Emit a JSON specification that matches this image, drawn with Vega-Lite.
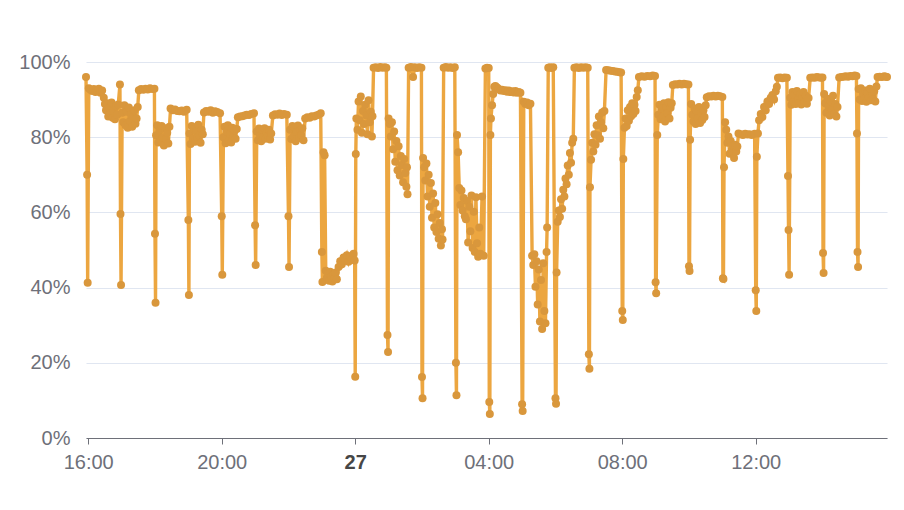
{
"$schema": "https://vega.github.io/schema/vega-lite/v6.json",
"width": 801, "height": 376,
"autosize": {"type": "none"},
"padding": {"left": 86, "top": 62, "right": 17, "bottom": 72},
"background": "white",
"config": {"view": {"stroke": null}, "font": "Liberation Sans"},
"data": {"values": [
{"t":"2024-05-26T15:56","v":0.960},{"t":"2024-05-26T15:58","v":0.700},{"t":"2024-05-26T15:59","v":0.413},
{"t":"2024-05-26T16:01","v":0.930},{"t":"2024-05-26T16:04","v":0.926},{"t":"2024-05-26T16:07","v":0.923},{"t":"2024-05-26T16:10","v":0.928},{"t":"2024-05-26T16:13","v":0.920},{"t":"2024-05-26T16:16","v":0.925},{"t":"2024-05-26T16:19","v":0.929},{"t":"2024-05-26T16:22","v":0.918},{"t":"2024-05-26T16:25","v":0.924},{"t":"2024-05-26T16:28","v":0.905},{"t":"2024-05-26T16:30","v":0.888},{"t":"2024-05-26T16:32","v":0.872},{"t":"2024-05-26T16:34","v":0.890},{"t":"2024-05-26T16:36","v":0.855},{"t":"2024-05-26T16:38","v":0.878},{"t":"2024-05-26T16:40","v":0.863},{"t":"2024-05-26T16:42","v":0.892},{"t":"2024-05-26T16:44","v":0.852},{"t":"2024-05-26T16:46","v":0.870},{"t":"2024-05-26T16:48","v":0.848},{"t":"2024-05-26T16:50","v":0.882},{"t":"2024-05-26T16:52","v":0.860},{"t":"2024-05-26T16:54","v":0.887},{"t":"2024-05-26T16:57","v":0.940},{"t":"2024-05-26T16:58","v":0.596},{"t":"2024-05-26T16:59","v":0.407},
{"t":"2024-05-26T17:01","v":0.865},{"t":"2024-05-26T17:03","v":0.840},{"t":"2024-05-26T17:05","v":0.885},{"t":"2024-05-26T17:07","v":0.832},{"t":"2024-05-26T17:09","v":0.868},{"t":"2024-05-26T17:11","v":0.825},{"t":"2024-05-26T17:13","v":0.879},{"t":"2024-05-26T17:15","v":0.844},{"t":"2024-05-26T17:17","v":0.860},{"t":"2024-05-26T17:19","v":0.828},{"t":"2024-05-26T17:21","v":0.855},{"t":"2024-05-26T17:23","v":0.872},{"t":"2024-05-26T17:25","v":0.836},{"t":"2024-05-26T17:27","v":0.850},{"t":"2024-05-26T17:29","v":0.880},
{"t":"2024-05-26T17:31","v":0.925},{"t":"2024-05-26T17:35","v":0.928},{"t":"2024-05-26T17:39","v":0.926},{"t":"2024-05-26T17:43","v":0.929},{"t":"2024-05-26T17:47","v":0.927},{"t":"2024-05-26T17:51","v":0.930},{"t":"2024-05-26T17:55","v":0.928},{"t":"2024-05-26T17:59","v":0.929},
{"t":"2024-05-26T18:00","v":0.543},{"t":"2024-05-26T18:01","v":0.360},
{"t":"2024-05-26T18:02","v":0.805},{"t":"2024-05-26T18:04","v":0.832},{"t":"2024-05-26T18:06","v":0.786},{"t":"2024-05-26T18:08","v":0.818},{"t":"2024-05-26T18:10","v":0.792},{"t":"2024-05-26T18:12","v":0.830},{"t":"2024-05-26T18:14","v":0.800},{"t":"2024-05-26T18:16","v":0.778},{"t":"2024-05-26T18:18","v":0.824},{"t":"2024-05-26T18:20","v":0.795},{"t":"2024-05-26T18:22","v":0.812},{"t":"2024-05-26T18:24","v":0.783},{"t":"2024-05-26T18:26","v":0.828},
{"t":"2024-05-26T18:28","v":0.876},{"t":"2024-05-26T18:32","v":0.872},{"t":"2024-05-26T18:36","v":0.874},{"t":"2024-05-26T18:40","v":0.870},{"t":"2024-05-26T18:44","v":0.869},{"t":"2024-05-26T18:48","v":0.871},{"t":"2024-05-26T18:52","v":0.868},{"t":"2024-05-26T18:57","v":0.873},
{"t":"2024-05-26T19:00","v":0.580},{"t":"2024-05-26T19:01","v":0.380},
{"t":"2024-05-26T19:02","v":0.810},{"t":"2024-05-26T19:04","v":0.782},{"t":"2024-05-26T19:06","v":0.830},{"t":"2024-05-26T19:08","v":0.796},{"t":"2024-05-26T19:10","v":0.822},{"t":"2024-05-26T19:12","v":0.788},{"t":"2024-05-26T19:14","v":0.815},{"t":"2024-05-26T19:16","v":0.799},{"t":"2024-05-26T19:18","v":0.833},{"t":"2024-05-26T19:20","v":0.804},{"t":"2024-05-26T19:22","v":0.785},{"t":"2024-05-26T19:24","v":0.820},{"t":"2024-05-26T19:26","v":0.808},
{"t":"2024-05-26T19:28","v":0.866},{"t":"2024-05-26T19:32","v":0.870},{"t":"2024-05-26T19:36","v":0.868},{"t":"2024-05-26T19:40","v":0.872},{"t":"2024-05-26T19:44","v":0.865},{"t":"2024-05-26T19:48","v":0.869},{"t":"2024-05-26T19:52","v":0.867},{"t":"2024-05-26T19:57","v":0.864},
{"t":"2024-05-26T20:00","v":0.590},{"t":"2024-05-26T20:01","v":0.434},
{"t":"2024-05-26T20:03","v":0.800},{"t":"2024-05-26T20:05","v":0.828},{"t":"2024-05-26T20:07","v":0.784},{"t":"2024-05-26T20:09","v":0.815},{"t":"2024-05-26T20:11","v":0.832},{"t":"2024-05-26T20:13","v":0.791},{"t":"2024-05-26T20:15","v":0.808},{"t":"2024-05-26T20:17","v":0.786},{"t":"2024-05-26T20:19","v":0.825},{"t":"2024-05-26T20:21","v":0.802},{"t":"2024-05-26T20:23","v":0.818},{"t":"2024-05-26T20:25","v":0.796},{"t":"2024-05-26T20:27","v":0.822},
{"t":"2024-05-26T20:29","v":0.853},{"t":"2024-05-26T20:33","v":0.855},{"t":"2024-05-26T20:37","v":0.856},{"t":"2024-05-26T20:41","v":0.858},{"t":"2024-05-26T20:45","v":0.860},{"t":"2024-05-26T20:49","v":0.859},{"t":"2024-05-26T20:53","v":0.862},{"t":"2024-05-26T20:58","v":0.864},
{"t":"2024-05-26T21:00","v":0.566},{"t":"2024-05-26T21:01","v":0.460},
{"t":"2024-05-26T21:03","v":0.815},{"t":"2024-05-26T21:05","v":0.792},{"t":"2024-05-26T21:07","v":0.823},{"t":"2024-05-26T21:09","v":0.804},{"t":"2024-05-26T21:11","v":0.789},{"t":"2024-05-26T21:13","v":0.819},{"t":"2024-05-26T21:15","v":0.800},{"t":"2024-05-26T21:17","v":0.824},{"t":"2024-05-26T21:19","v":0.796},{"t":"2024-05-26T21:21","v":0.812},{"t":"2024-05-26T21:23","v":0.805},{"t":"2024-05-26T21:25","v":0.820},{"t":"2024-05-26T21:27","v":0.794},{"t":"2024-05-26T21:29","v":0.810},
{"t":"2024-05-26T21:32","v":0.858},{"t":"2024-05-26T21:36","v":0.861},{"t":"2024-05-26T21:40","v":0.860},{"t":"2024-05-26T21:44","v":0.863},{"t":"2024-05-26T21:48","v":0.859},{"t":"2024-05-26T21:52","v":0.862},{"t":"2024-05-26T21:57","v":0.860},
{"t":"2024-05-26T22:00","v":0.590},{"t":"2024-05-26T22:01","v":0.455},
{"t":"2024-05-26T22:03","v":0.820},{"t":"2024-05-26T22:05","v":0.795},{"t":"2024-05-26T22:07","v":0.830},{"t":"2024-05-26T22:09","v":0.802},{"t":"2024-05-26T22:11","v":0.826},{"t":"2024-05-26T22:13","v":0.789},{"t":"2024-05-26T22:15","v":0.814},{"t":"2024-05-26T22:17","v":0.831},{"t":"2024-05-26T22:19","v":0.798},{"t":"2024-05-26T22:21","v":0.819},{"t":"2024-05-26T22:23","v":0.805},{"t":"2024-05-26T22:25","v":0.824},{"t":"2024-05-26T22:27","v":0.792},
{"t":"2024-05-26T22:30","v":0.850},{"t":"2024-05-26T22:34","v":0.853},{"t":"2024-05-26T22:38","v":0.852},{"t":"2024-05-26T22:42","v":0.856},{"t":"2024-05-26T22:46","v":0.855},{"t":"2024-05-26T22:50","v":0.858},{"t":"2024-05-26T22:54","v":0.860},{"t":"2024-05-26T22:58","v":0.864},
{"t":"2024-05-26T23:00","v":0.495},{"t":"2024-05-26T23:01","v":0.415},{"t":"2024-05-26T23:03","v":0.760},{"t":"2024-05-26T23:05","v":0.752},
{"t":"2024-05-26T23:07","v":0.445},{"t":"2024-05-26T23:09","v":0.426},{"t":"2024-05-26T23:11","v":0.438},{"t":"2024-05-26T23:13","v":0.418},{"t":"2024-05-26T23:15","v":0.442},{"t":"2024-05-26T23:17","v":0.429},{"t":"2024-05-26T23:19","v":0.416},{"t":"2024-05-26T23:21","v":0.435},{"t":"2024-05-26T23:23","v":0.424},{"t":"2024-05-26T23:25","v":0.440},{"t":"2024-05-26T23:27","v":0.422},
{"t":"2024-05-26T23:30","v":0.455},{"t":"2024-05-26T23:33","v":0.470},{"t":"2024-05-26T23:36","v":0.462},{"t":"2024-05-26T23:39","v":0.480},{"t":"2024-05-26T23:42","v":0.473},{"t":"2024-05-26T23:45","v":0.486},{"t":"2024-05-26T23:48","v":0.469},{"t":"2024-05-26T23:51","v":0.482},{"t":"2024-05-26T23:54","v":0.475},{"t":"2024-05-26T23:57","v":0.490},{"t":"2024-05-26T23:59","v":0.472},
{"t":"2024-05-27T00:00","v":0.163},{"t":"2024-05-27T00:01","v":0.755},
{"t":"2024-05-27T00:02","v":0.850},{"t":"2024-05-27T00:04","v":0.820},{"t":"2024-05-27T00:06","v":0.895},{"t":"2024-05-27T00:08","v":0.845},{"t":"2024-05-27T00:10","v":0.908},{"t":"2024-05-27T00:12","v":0.812},{"t":"2024-05-27T00:14","v":0.870},{"t":"2024-05-27T00:16","v":0.835},{"t":"2024-05-27T00:18","v":0.886},{"t":"2024-05-27T00:20","v":0.858},{"t":"2024-05-27T00:22","v":0.808},{"t":"2024-05-27T00:24","v":0.898},{"t":"2024-05-27T00:26","v":0.840},{"t":"2024-05-27T00:28","v":0.868},{"t":"2024-05-27T00:30","v":0.802},{"t":"2024-05-27T00:31","v":0.856},
{"t":"2024-05-27T00:33","v":0.985},{"t":"2024-05-27T00:37","v":0.986},{"t":"2024-05-27T00:41","v":0.984},{"t":"2024-05-27T00:45","v":0.987},{"t":"2024-05-27T00:49","v":0.985},{"t":"2024-05-27T00:53","v":0.986},{"t":"2024-05-27T00:56","v":0.985},
{"t":"2024-05-27T00:58","v":0.274},{"t":"2024-05-27T00:59","v":0.229},
{"t":"2024-05-27T01:00","v":0.850},{"t":"2024-05-27T01:02","v":0.835},{"t":"2024-05-27T01:04","v":0.802},{"t":"2024-05-27T01:06","v":0.840},{"t":"2024-05-27T01:08","v":0.768},{"t":"2024-05-27T01:10","v":0.815},{"t":"2024-05-27T01:12","v":0.735},{"t":"2024-05-27T01:14","v":0.790},{"t":"2024-05-27T01:16","v":0.712},{"t":"2024-05-27T01:18","v":0.776},{"t":"2024-05-27T01:20","v":0.698},{"t":"2024-05-27T01:22","v":0.750},{"t":"2024-05-27T01:24","v":0.726},{"t":"2024-05-27T01:26","v":0.680},{"t":"2024-05-27T01:28","v":0.742},{"t":"2024-05-27T01:30","v":0.705},{"t":"2024-05-27T01:32","v":0.668},{"t":"2024-05-27T01:33","v":0.720},{"t":"2024-05-27T01:34","v":0.648},
{"t":"2024-05-27T01:36","v":0.985},{"t":"2024-05-27T01:40","v":0.987},{"t":"2024-05-27T01:44","v":0.960},{"t":"2024-05-27T01:47","v":0.986},{"t":"2024-05-27T01:51","v":0.984},{"t":"2024-05-27T01:55","v":0.986},{"t":"2024-05-27T01:59","v":0.985},
{"t":"2024-05-27T02:00","v":0.162},{"t":"2024-05-27T02:01","v":0.106},
{"t":"2024-05-27T02:02","v":0.745},{"t":"2024-05-27T02:04","v":0.720},{"t":"2024-05-27T02:06","v":0.685},{"t":"2024-05-27T02:08","v":0.730},{"t":"2024-05-27T02:10","v":0.642},{"t":"2024-05-27T02:12","v":0.700},{"t":"2024-05-27T02:14","v":0.615},{"t":"2024-05-27T02:16","v":0.678},{"t":"2024-05-27T02:18","v":0.586},{"t":"2024-05-27T02:20","v":0.650},{"t":"2024-05-27T02:22","v":0.560},{"t":"2024-05-27T02:24","v":0.625},{"t":"2024-05-27T02:26","v":0.548},{"t":"2024-05-27T02:28","v":0.595},{"t":"2024-05-27T02:30","v":0.530},{"t":"2024-05-27T02:32","v":0.572},{"t":"2024-05-27T02:34","v":0.512},{"t":"2024-05-27T02:36","v":0.555},{"t":"2024-05-27T02:37","v":0.528},
{"t":"2024-05-27T02:39","v":0.985},{"t":"2024-05-27T02:43","v":0.987},{"t":"2024-05-27T02:47","v":0.985},{"t":"2024-05-27T02:51","v":0.986},{"t":"2024-05-27T02:55","v":0.984},{"t":"2024-05-27T02:59","v":0.986},
{"t":"2024-05-27T03:01","v":0.200},{"t":"2024-05-27T03:02","v":0.114},
{"t":"2024-05-27T03:03","v":0.806},{"t":"2024-05-27T03:05","v":0.760},{"t":"2024-05-27T03:07","v":0.665},{"t":"2024-05-27T03:09","v":0.620},{"t":"2024-05-27T03:11","v":0.658},{"t":"2024-05-27T03:13","v":0.605},{"t":"2024-05-27T03:15","v":0.638},{"t":"2024-05-27T03:17","v":0.590},{"t":"2024-05-27T03:19","v":0.582},{"t":"2024-05-27T03:21","v":0.630},{"t":"2024-05-27T03:23","v":0.520},{"t":"2024-05-27T03:25","v":0.615},{"t":"2024-05-27T03:27","v":0.550},{"t":"2024-05-27T03:29","v":0.645},{"t":"2024-05-27T03:31","v":0.505},{"t":"2024-05-27T03:33","v":0.602},{"t":"2024-05-27T03:35","v":0.495},{"t":"2024-05-27T03:37","v":0.640},{"t":"2024-05-27T03:39","v":0.518},{"t":"2024-05-27T03:41","v":0.482},{"t":"2024-05-27T03:43","v":0.560},{"t":"2024-05-27T03:45","v":0.490},{"t":"2024-05-27T03:48","v":0.642},{"t":"2024-05-27T03:51","v":0.485},
{"t":"2024-05-27T03:54","v":0.983},{"t":"2024-05-27T03:57","v":0.985},{"t":"2024-05-27T04:00","v":0.984},
{"t":"2024-05-27T04:01","v":0.096},{"t":"2024-05-27T04:02","v":0.064},
{"t":"2024-05-27T04:03","v":0.806},{"t":"2024-05-27T04:04","v":0.850},{"t":"2024-05-27T04:06","v":0.885},{"t":"2024-05-27T04:08","v":0.915},{"t":"2024-05-27T04:10","v":0.934},{"t":"2024-05-27T04:12","v":0.936},{"t":"2024-05-27T04:15","v":0.932},{"t":"2024-05-27T04:18","v":0.928},{"t":"2024-05-27T04:21","v":0.924},{"t":"2024-05-27T04:24","v":0.926},{"t":"2024-05-27T04:27","v":0.923},{"t":"2024-05-27T04:30","v":0.925},{"t":"2024-05-27T04:33","v":0.921},{"t":"2024-05-27T04:36","v":0.924},{"t":"2024-05-27T04:39","v":0.920},{"t":"2024-05-27T04:42","v":0.922},{"t":"2024-05-27T04:45","v":0.919},{"t":"2024-05-27T04:48","v":0.923},{"t":"2024-05-27T04:51","v":0.918},{"t":"2024-05-27T04:54","v":0.920},{"t":"2024-05-27T04:57","v":0.918},
{"t":"2024-05-27T05:00","v":0.090},{"t":"2024-05-27T05:01","v":0.072},
{"t":"2024-05-27T05:03","v":0.894},{"t":"2024-05-27T05:06","v":0.888},{"t":"2024-05-27T05:09","v":0.892},{"t":"2024-05-27T05:12","v":0.885},{"t":"2024-05-27T05:15","v":0.889},
{"t":"2024-05-27T05:18","v":0.485},{"t":"2024-05-27T05:20","v":0.460},{"t":"2024-05-27T05:22","v":0.489},{"t":"2024-05-27T05:24","v":0.402},{"t":"2024-05-27T05:26","v":0.470},{"t":"2024-05-27T05:28","v":0.355},{"t":"2024-05-27T05:30","v":0.448},{"t":"2024-05-27T05:32","v":0.310},{"t":"2024-05-27T05:34","v":0.420},{"t":"2024-05-27T05:36","v":0.290},{"t":"2024-05-27T05:38","v":0.465},{"t":"2024-05-27T05:40","v":0.338},{"t":"2024-05-27T05:42","v":0.305},{"t":"2024-05-27T05:44","v":0.495},
{"t":"2024-05-27T05:45","v":0.560},{"t":"2024-05-27T05:47","v":0.985},{"t":"2024-05-27T05:50","v":0.986},{"t":"2024-05-27T05:53","v":0.984},{"t":"2024-05-27T05:56","v":0.986},
{"t":"2024-05-27T06:00","v":0.106},{"t":"2024-05-27T06:01","v":0.091},
{"t":"2024-05-27T06:02","v":0.440},{"t":"2024-05-27T06:04","v":0.575},{"t":"2024-05-27T06:06","v":0.605},{"t":"2024-05-27T06:08","v":0.588},{"t":"2024-05-27T06:10","v":0.635},{"t":"2024-05-27T06:12","v":0.610},{"t":"2024-05-27T06:14","v":0.660},{"t":"2024-05-27T06:16","v":0.642},{"t":"2024-05-27T06:18","v":0.690},{"t":"2024-05-27T06:20","v":0.675},{"t":"2024-05-27T06:22","v":0.725},{"t":"2024-05-27T06:24","v":0.700},{"t":"2024-05-27T06:26","v":0.758},{"t":"2024-05-27T06:28","v":0.732},{"t":"2024-05-27T06:30","v":0.785},{"t":"2024-05-27T06:32","v":0.796},
{"t":"2024-05-27T06:34","v":0.985},{"t":"2024-05-27T06:38","v":0.986},{"t":"2024-05-27T06:42","v":0.984},{"t":"2024-05-27T06:46","v":0.986},{"t":"2024-05-27T06:50","v":0.985},{"t":"2024-05-27T06:54","v":0.986},{"t":"2024-05-27T06:58","v":0.985},
{"t":"2024-05-27T07:00","v":0.223},{"t":"2024-05-27T07:01","v":0.184},
{"t":"2024-05-27T07:02","v":0.667},{"t":"2024-05-27T07:04","v":0.740},{"t":"2024-05-27T07:06","v":0.785},{"t":"2024-05-27T07:08","v":0.762},{"t":"2024-05-27T07:10","v":0.808},{"t":"2024-05-27T07:12","v":0.780},{"t":"2024-05-27T07:14","v":0.832},{"t":"2024-05-27T07:16","v":0.805},{"t":"2024-05-27T07:18","v":0.855},{"t":"2024-05-27T07:20","v":0.796},{"t":"2024-05-27T07:22","v":0.840},{"t":"2024-05-27T07:24","v":0.866},{"t":"2024-05-27T07:26","v":0.824},{"t":"2024-05-27T07:28","v":0.870},
{"t":"2024-05-27T07:31","v":0.979},{"t":"2024-05-27T07:35","v":0.978},{"t":"2024-05-27T07:39","v":0.977},{"t":"2024-05-27T07:43","v":0.976},{"t":"2024-05-27T07:47","v":0.975},{"t":"2024-05-27T07:51","v":0.974},{"t":"2024-05-27T07:55","v":0.973},{"t":"2024-05-27T07:58","v":0.972},
{"t":"2024-05-27T08:00","v":0.338},{"t":"2024-05-27T08:01","v":0.314},
{"t":"2024-05-27T08:02","v":0.742},{"t":"2024-05-27T08:04","v":0.825},{"t":"2024-05-27T08:06","v":0.850},{"t":"2024-05-27T08:08","v":0.830},{"t":"2024-05-27T08:10","v":0.872},{"t":"2024-05-27T08:12","v":0.844},{"t":"2024-05-27T08:14","v":0.880},{"t":"2024-05-27T08:16","v":0.856},{"t":"2024-05-27T08:18","v":0.890},{"t":"2024-05-27T08:20","v":0.862},{"t":"2024-05-27T08:22","v":0.886},{"t":"2024-05-27T08:24","v":0.870},{"t":"2024-05-27T08:26","v":0.907},{"t":"2024-05-27T08:28","v":0.925},
{"t":"2024-05-27T08:30","v":0.960},{"t":"2024-05-27T08:35","v":0.962},{"t":"2024-05-27T08:40","v":0.961},{"t":"2024-05-27T08:45","v":0.963},{"t":"2024-05-27T08:50","v":0.962},{"t":"2024-05-27T08:55","v":0.964},{"t":"2024-05-27T08:59","v":0.963},
{"t":"2024-05-27T09:00","v":0.414},{"t":"2024-05-27T09:01","v":0.385},
{"t":"2024-05-27T09:03","v":0.806},{"t":"2024-05-27T09:05","v":0.860},{"t":"2024-05-27T09:07","v":0.886},{"t":"2024-05-27T09:09","v":0.848},{"t":"2024-05-27T09:11","v":0.875},{"t":"2024-05-27T09:13","v":0.855},{"t":"2024-05-27T09:15","v":0.890},{"t":"2024-05-27T09:17","v":0.842},{"t":"2024-05-27T09:19","v":0.880},{"t":"2024-05-27T09:21","v":0.864},{"t":"2024-05-27T09:23","v":0.893},{"t":"2024-05-27T09:25","v":0.850},{"t":"2024-05-27T09:27","v":0.878},{"t":"2024-05-27T09:29","v":0.890},
{"t":"2024-05-27T09:31","v":0.939},{"t":"2024-05-27T09:35","v":0.941},{"t":"2024-05-27T09:39","v":0.940},{"t":"2024-05-27T09:43","v":0.942},{"t":"2024-05-27T09:47","v":0.940},{"t":"2024-05-27T09:51","v":0.942},{"t":"2024-05-27T09:55","v":0.941},{"t":"2024-05-27T09:59","v":0.940},
{"t":"2024-05-27T10:00","v":0.457},{"t":"2024-05-27T10:01","v":0.444},
{"t":"2024-05-27T10:02","v":0.793},{"t":"2024-05-27T10:04","v":0.888},{"t":"2024-05-27T10:06","v":0.860},{"t":"2024-05-27T10:08","v":0.842},{"t":"2024-05-27T10:10","v":0.876},{"t":"2024-05-27T10:12","v":0.835},{"t":"2024-05-27T10:14","v":0.868},{"t":"2024-05-27T10:16","v":0.850},{"t":"2024-05-27T10:18","v":0.880},{"t":"2024-05-27T10:20","v":0.838},{"t":"2024-05-27T10:22","v":0.864},{"t":"2024-05-27T10:24","v":0.846},{"t":"2024-05-27T10:26","v":0.872},{"t":"2024-05-27T10:28","v":0.854},{"t":"2024-05-27T10:30","v":0.885},
{"t":"2024-05-27T10:32","v":0.906},{"t":"2024-05-27T10:36","v":0.909},{"t":"2024-05-27T10:40","v":0.908},{"t":"2024-05-27T10:44","v":0.910},{"t":"2024-05-27T10:48","v":0.908},{"t":"2024-05-27T10:52","v":0.910},{"t":"2024-05-27T10:56","v":0.909},{"t":"2024-05-27T11:00","v":0.907},
{"t":"2024-05-27T11:01","v":0.425},{"t":"2024-05-27T11:02","v":0.423},
{"t":"2024-05-27T11:03","v":0.720},{"t":"2024-05-27T11:05","v":0.840},{"t":"2024-05-27T11:07","v":0.820},{"t":"2024-05-27T11:09","v":0.785},{"t":"2024-05-27T11:11","v":0.802},{"t":"2024-05-27T11:13","v":0.756},{"t":"2024-05-27T11:15","v":0.790},{"t":"2024-05-27T11:17","v":0.765},{"t":"2024-05-27T11:19","v":0.778},{"t":"2024-05-27T11:21","v":0.745},{"t":"2024-05-27T11:23","v":0.780},{"t":"2024-05-27T11:25","v":0.762},{"t":"2024-05-27T11:27","v":0.775},
{"t":"2024-05-27T11:29","v":0.810},{"t":"2024-05-27T11:33","v":0.808},{"t":"2024-05-27T11:37","v":0.806},{"t":"2024-05-27T11:41","v":0.809},{"t":"2024-05-27T11:45","v":0.807},{"t":"2024-05-27T11:49","v":0.808},{"t":"2024-05-27T11:53","v":0.806},{"t":"2024-05-27T11:58","v":0.809},
{"t":"2024-05-27T12:00","v":0.393},{"t":"2024-05-27T12:01","v":0.338},
{"t":"2024-05-27T12:02","v":0.748},{"t":"2024-05-27T12:04","v":0.810},{"t":"2024-05-27T12:06","v":0.845},{"t":"2024-05-27T12:09","v":0.862},{"t":"2024-05-27T12:12","v":0.854},{"t":"2024-05-27T12:15","v":0.880},{"t":"2024-05-27T12:18","v":0.872},{"t":"2024-05-27T12:21","v":0.895},{"t":"2024-05-27T12:24","v":0.888},{"t":"2024-05-27T12:27","v":0.905},{"t":"2024-05-27T12:30","v":0.912},{"t":"2024-05-27T12:33","v":0.900},{"t":"2024-05-27T12:36","v":0.922},{"t":"2024-05-27T12:38","v":0.934},
{"t":"2024-05-27T12:40","v":0.958},{"t":"2024-05-27T12:44","v":0.959},{"t":"2024-05-27T12:48","v":0.957},{"t":"2024-05-27T12:52","v":0.959},{"t":"2024-05-27T12:56","v":0.958},
{"t":"2024-05-27T12:58","v":0.697},{"t":"2024-05-27T12:59","v":0.553},{"t":"2024-05-27T13:00","v":0.434},
{"t":"2024-05-27T13:02","v":0.905},{"t":"2024-05-27T13:04","v":0.886},{"t":"2024-05-27T13:06","v":0.920},{"t":"2024-05-27T13:08","v":0.894},{"t":"2024-05-27T13:10","v":0.912},{"t":"2024-05-27T13:12","v":0.888},{"t":"2024-05-27T13:14","v":0.923},{"t":"2024-05-27T13:16","v":0.900},{"t":"2024-05-27T13:18","v":0.890},{"t":"2024-05-27T13:20","v":0.915},{"t":"2024-05-27T13:22","v":0.887},{"t":"2024-05-27T13:24","v":0.908},{"t":"2024-05-27T13:26","v":0.920},{"t":"2024-05-27T13:28","v":0.892},{"t":"2024-05-27T13:30","v":0.910},{"t":"2024-05-27T13:32","v":0.889},{"t":"2024-05-27T13:35","v":0.904},
{"t":"2024-05-27T13:38","v":0.958},{"t":"2024-05-27T13:42","v":0.959},{"t":"2024-05-27T13:46","v":0.958},{"t":"2024-05-27T13:50","v":0.960},{"t":"2024-05-27T13:54","v":0.959},{"t":"2024-05-27T13:58","v":0.958},{"t":"2024-05-27T14:00","v":0.959},
{"t":"2024-05-27T14:01","v":0.492},{"t":"2024-05-27T14:02","v":0.439},
{"t":"2024-05-27T14:03","v":0.915},{"t":"2024-05-27T14:05","v":0.890},{"t":"2024-05-27T14:07","v":0.865},{"t":"2024-05-27T14:09","v":0.902},{"t":"2024-05-27T14:11","v":0.880},{"t":"2024-05-27T14:13","v":0.858},{"t":"2024-05-27T14:15","v":0.895},{"t":"2024-05-27T14:17","v":0.872},{"t":"2024-05-27T14:19","v":0.910},{"t":"2024-05-27T14:21","v":0.862},{"t":"2024-05-27T14:23","v":0.888},{"t":"2024-05-27T14:25","v":0.855},{"t":"2024-05-27T14:27","v":0.880},
{"t":"2024-05-27T14:30","v":0.959},{"t":"2024-05-27T14:34","v":0.960},{"t":"2024-05-27T14:38","v":0.961},{"t":"2024-05-27T14:42","v":0.962},{"t":"2024-05-27T14:46","v":0.961},{"t":"2024-05-27T14:50","v":0.963},{"t":"2024-05-27T14:54","v":0.962},{"t":"2024-05-27T14:58","v":0.964},{"t":"2024-05-27T15:01","v":0.963},
{"t":"2024-05-27T15:02","v":0.810},{"t":"2024-05-27T15:03","v":0.495},{"t":"2024-05-27T15:04","v":0.455},
{"t":"2024-05-27T15:05","v":0.928},{"t":"2024-05-27T15:07","v":0.900},{"t":"2024-05-27T15:09","v":0.930},{"t":"2024-05-27T15:11","v":0.896},{"t":"2024-05-27T15:13","v":0.915},{"t":"2024-05-27T15:15","v":0.902},{"t":"2024-05-27T15:17","v":0.924},{"t":"2024-05-27T15:19","v":0.894},{"t":"2024-05-27T15:21","v":0.918},{"t":"2024-05-27T15:23","v":0.905},{"t":"2024-05-27T15:25","v":0.929},{"t":"2024-05-27T15:27","v":0.898},{"t":"2024-05-27T15:29","v":0.910},{"t":"2024-05-27T15:31","v":0.900},{"t":"2024-05-27T15:33","v":0.922},{"t":"2024-05-27T15:35","v":0.895},{"t":"2024-05-27T15:37","v":0.935},
{"t":"2024-05-27T15:39","v":0.960},{"t":"2024-05-27T15:43","v":0.961},{"t":"2024-05-27T15:47","v":0.960},{"t":"2024-05-27T15:51","v":0.962},{"t":"2024-05-27T15:54","v":0.961},{"t":"2024-05-27T15:56","v":0.960}
]},
"encoding": {
  "x": {"field": "t", "type": "temporal", "scale": {"nice": false},
        "axis": {"title": null,
                 "values": [{"year":2024,"month":5,"date":26,"hours":16},{"year":2024,"month":5,"date":26,"hours":20},{"year":2024,"month":5,"date":27,"hours":0},{"year":2024,"month":5,"date":27,"hours":4},{"year":2024,"month":5,"date":27,"hours":8},{"year":2024,"month":5,"date":27,"hours":12}],
                 "format": {"hours": "%H:%M", "date": "%d", "week": "%d", "month": "%d", "minutes": "%H:%M"},
                 "grid": false, "domainColor": "#6E7079", "domainWidth": 1.2, "tickColor": "#6E7079", "tickSize": 6,
                 "labelColor": {"condition": {"test": "hours(datum.value) == 0", "value": "#464646"}, "value": "#6E7079"},
                 "labelFontWeight": {"condition": {"test": "hours(datum.value) == 0", "value": "bold"}, "value": "normal"},
                 "labelFontSize": 20, "labelPadding": 8}},
  "y": {"field": "v", "type": "quantitative", "scale": {"domain": [0, 1]},
        "axis": {"title": null, "values": [0, 0.2, 0.4, 0.6, 0.8, 1], "format": ".0%",
                 "domain": false, "ticks": false, "gridColor": "#E0E6F1", "gridWidth": 1.2,
                 "labelColor": "#6E7079", "labelFontSize": 20, "labelPadding": 16}}
},
"layer": [
  {"mark": {"type": "line", "color": "#eca640", "strokeWidth": 3.4}},
  {"mark": {"type": "point", "filled": true, "color": "#d9973c", "size": 64, "opacity": 1}}
]
}
